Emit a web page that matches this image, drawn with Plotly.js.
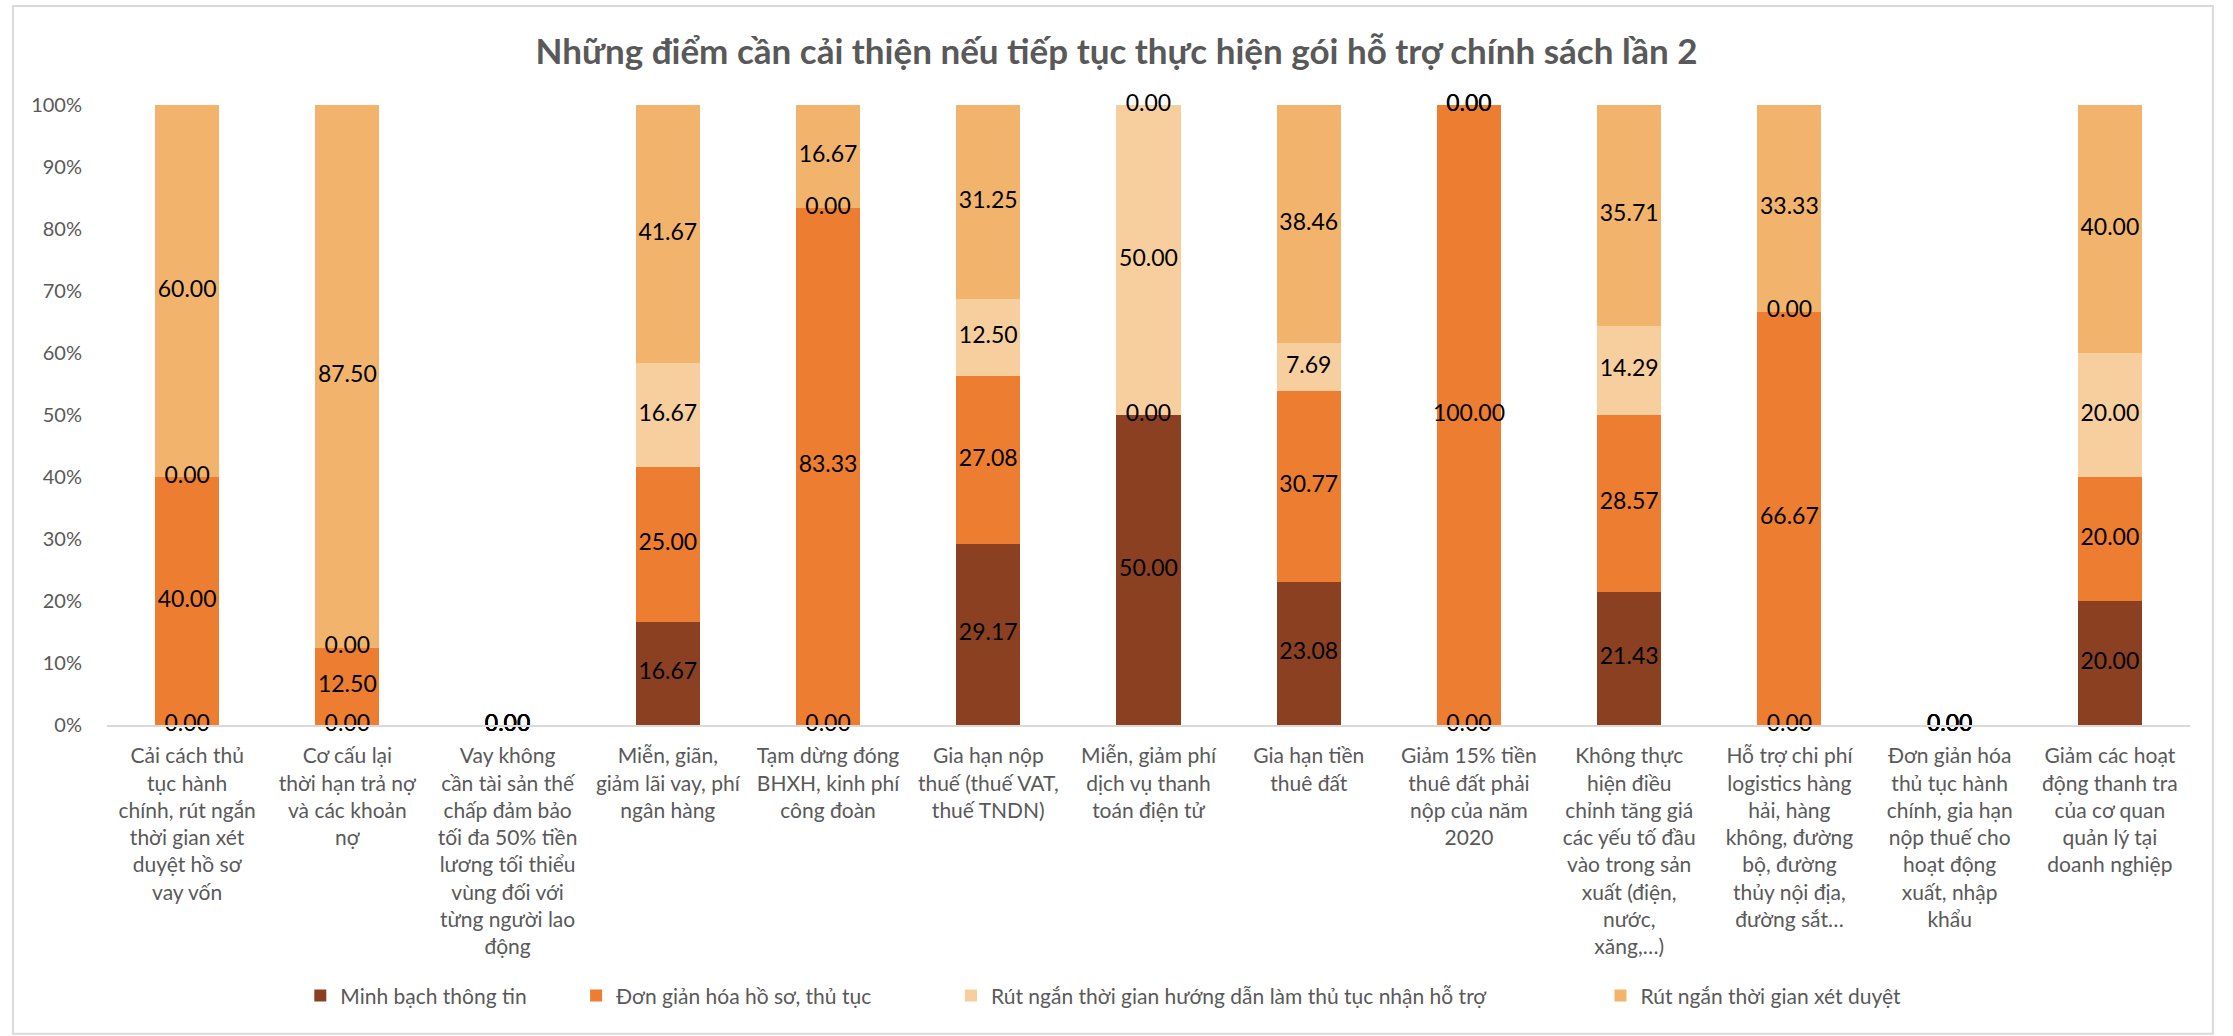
<!DOCTYPE html>
<html>
<head>
<meta charset="utf-8">
<script src="https://cdn.plot.ly/plotly-3.0.1.min.js"></script>
<style>html,body{margin:0;padding:0;background:#fff;}#chart{width:2233px;height:1036px;}</style>
</head>
<body>
<div id="chart"></div>
<script>
const categories = [
  "Cải cách thủ<br>tục hành<br>chính, rút ngắn<br>thời gian xét<br>duyệt hồ sơ<br>vay vốn",
  "Cơ cấu lại<br>thời hạn trả nợ<br>và các khoản<br>nợ",
  "Vay không<br>cần tài sản thế<br>chấp đảm bảo<br>tối đa 50% tiền<br>lương tối thiểu<br>vùng đối với<br>từng người lao<br>động",
  "Miễn, giãn,<br>giảm lãi vay, phí<br>ngân hàng",
  "Tạm dừng đóng<br>BHXH, kinh phí<br>công đoàn",
  "Gia hạn nộp<br>thuế (thuế VAT,<br>thuế TNDN)",
  "Miễn, giảm phí<br>dịch vụ thanh<br>toán điện tử",
  "Gia hạn tiền<br>thuê đất",
  "Giảm 15% tiền<br>thuê đất phải<br>nộp của năm<br>2020",
  "Không thực<br>hiện điều<br>chỉnh tăng giá<br>các yếu tố đầu<br>vào trong sản<br>xuất (điện,<br>nước,<br>xăng,…)",
  "Hỗ trợ chi phí<br>logistics hàng<br>hải, hàng<br>không, đường<br>bộ, đường<br>thủy nội địa,<br>đường sắt…",
  "Đơn giản hóa<br>thủ tục hành<br>chính, gia hạn<br>nộp thuế cho<br>hoạt động<br>xuất, nhập<br>khẩu",
  "Giảm các hoạt<br>động thanh tra<br>của cơ quan<br>quản lý tại<br>doanh nghiệp"
];

const seriesNames = [
  "Minh bạch thông tin",
  "Đơn giản hóa hồ sơ, thủ tục",
  "Rút ngắn thời gian hướng dẫn làm thủ tục nhận hỗ trợ",
  "Rút ngắn thời gian xét duyệt"
];

const minhBach   = [0, 0, 0, 16.67, 0, 29.17, 50, 23.08, 0, 21.43, 0, 0, 20];
const donGian    = [40, 12.5, 0, 25.00, 83.33, 27.08, 0, 30.77, 100, 28.57, 66.67, 0, 20];
const huongDan   = [0, 0, 0, 16.67, 0, 12.50, 50, 7.69, 0, 14.29, 0, 0, 20];
const xetDuyet   = [60, 87.5, 0, 41.67, 16.67, 31.25, 0, 38.46, 0, 35.71, 33.33, 0, 40];

const yTickVals  = [0, 10, 20, 30, 40, 50, 60, 70, 80, 90, 100];
const yTickText  = ["0%", "10%", "20%", "30%", "40%", "50%", "60%", "70%", "80%", "90%", "100%"];

const seriesValues = [minhBach, donGian, huongDan, xetDuyet];
const seriesColors = ["#8B4121", "#ED7D31", "#F7CE9E", "#F2B46C"];
const legendIds = ["legend", "legend2", "legend3", "legend4"];

const FONT = "Lato, 'Noto Sans', sans-serif";

const traces = [];
seriesValues.forEach((vals, i) => {
  traces.push({
    type: "bar",
    name: seriesNames[i],
    x: categories,
    y: vals,
    marker: { color: seriesColors[i] },
    legend: legendIds[i],
    hoverinfo: "skip"
  });
});

// data labels centered on each segment
const base = categories.map(() => 0);
seriesValues.forEach((vals) => {
  const ys = vals.map((v, k) => base[k] + v / 2);
  traces.push({
    type: "scatter",
    mode: "text",
    x: categories,
    y: ys,
    text: vals.map(v => v.toFixed(2)),
    textposition: "middle center",
    textfont: { family: FONT, size: 23, color: "#000000" },
    showlegend: false,
    hoverinfo: "skip",
    cliponaxis: false
  });
  vals.forEach((v, k) => { base[k] += v; });
});

function legendAt(x) {
  return {
    orientation: "h",
    x: x, xanchor: "left",
    y: -0.437, yanchor: "middle",
    font: { family: FONT, size: 21, color: "#595959" },
    bgcolor: "rgba(0,0,0,0)",
    itemwidth: 30
  };
}

const layout = {
  width: 2233,
  height: 1036,
  margin: { l: 107, r: 43, t: 105, b: 311 },
  paper_bgcolor: "#ffffff",
  plot_bgcolor: "#ffffff",
  barmode: "stack",
  bargap: 0.6,
  font: { family: FONT, color: "#595959" },
  title: {
    text: "<b>Những điểm cần cải thiện nếu tiếp tục thực hiện gói hỗ trợ chính sách lần 2</b>",
    x: 0.5, xanchor: "center",
    y: 0.95, yanchor: "middle",
    font: { family: FONT, size: 35, color: "#595959" }
  },
  xaxis: {
    type: "category",
    range: [-0.5, 12.5],
    showgrid: false,
    showline: true,
    linecolor: "#D9D9D9",
    linewidth: 2,
    ticks: "",
    tickangle: 0,
    tickfont: { family: FONT, size: 21, color: "#595959" },
    ticklabelstandoff: 11,
    fixedrange: true
  },
  yaxis: {
    range: [0, 100],
    tickmode: "array",
    tickvals: yTickVals,
    ticktext: yTickText,
    showgrid: false,
    zeroline: false,
    showline: false,
    ticks: "",
    tickfont: { family: FONT, size: 20, color: "#595959" },
    ticklabelstandoff: 24,
    fixedrange: true
  },
  legend: legendAt(0.0928),
  legend2: legendAt(0.2252),
  legend3: legendAt(0.4052),
  legend4: legendAt(0.7170),
  shapes: [{
    type: "rect", xref: "paper", yref: "paper",
    x0: -0.0451, x1: 1.011, y0: -0.498, y1: 1.1597,
    line: { color: "#D9D9D9", width: 2 }, fillcolor: "rgba(0,0,0,0)"
  }],
  showlegend: true
};

Plotly.newPlot("chart", traces, layout, { displayModeBar: false, staticPlot: true });
</script>
</body>
</html>
